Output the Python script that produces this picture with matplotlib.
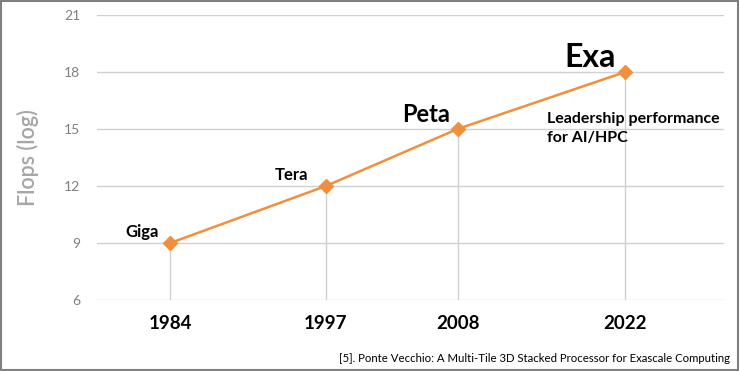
import matplotlib.pyplot as plt
from matplotlib.patches import Rectangle

# data
years = [1984, 1997, 2008, 2022]
flops_log = [9, 12, 15, 18]
labels = ["Giga", "Tera", "Peta", "Exa"]
label_sizes = [12, 12, 17, 23]
yticks = [6, 9, 12, 15, 18, 21]

orange = "#F0903F"
plt.rcParams['font.family'] = ['Lato', 'DejaVu Sans']

fig = plt.figure(figsize=(7.4, 3.71), dpi=100)
ax = fig.add_axes([0.131, 0.191, 0.847, 0.769])

# drop lines from each point
ax.vlines(years, 6, flops_log, color="#D0D0D0", lw=1, zorder=1)
ax.plot(years, flops_log, color=orange, lw=1.8, marker="D", ms=7,
        mec=orange, mfc=orange, zorder=3)

offsets = [(-28, 6), (-34, 6), (-32, 7), (-35, 5)]
for x, y, lab, fs, off in zip(years, flops_log, labels, label_sizes, offsets):
    ax.annotate(lab, (x, y), xytext=off, textcoords="offset pixels",
                ha="center", va="baseline", fontsize=fs, fontweight="bold")

ax.annotate("Leadership performance\nfor AI/HPC", (years[-1], 15),
            xytext=(-78, 0), textcoords="offset pixels", ha="left",
            va="center", fontsize=11.5, fontweight="bold", linespacing=1.45)

ax.set_xlim(1977.9, 2030.2)
ax.set_ylim(6, 21)
ax.set_yticks(yticks)
ax.set_xticks(years)
ax.set_xticklabels([str(y) for y in years], fontsize=13.5, fontweight="bold")
ax.tick_params(axis="x", length=0, pad=11)
ax.tick_params(axis="y", length=0, pad=12, labelsize=10, labelcolor="#7F7F7F")
ax.grid(axis="y", color="#D0D0D0", lw=1)
ax.set_axisbelow(True)
for s in ax.spines.values():
    s.set_visible(False)
ax.set_ylabel("Flops (log)", fontsize=15.5, color="#A6A6A6", labelpad=18,
              fontweight="semibold")

fig.text(0.987, 0.035, "[5]. Ponte Vecchio: A Multi-Tile 3D Stacked Processor for Exascale Computing",
         ha="right", va="center", fontsize=8.2)

fig.patches.append(Rectangle((0.002, 0.003), 0.995, 0.993, transform=fig.transFigure,
                             fill=False, edgecolor="#808080", lw=1.5))

fig.savefig("out.png", dpi=100)
